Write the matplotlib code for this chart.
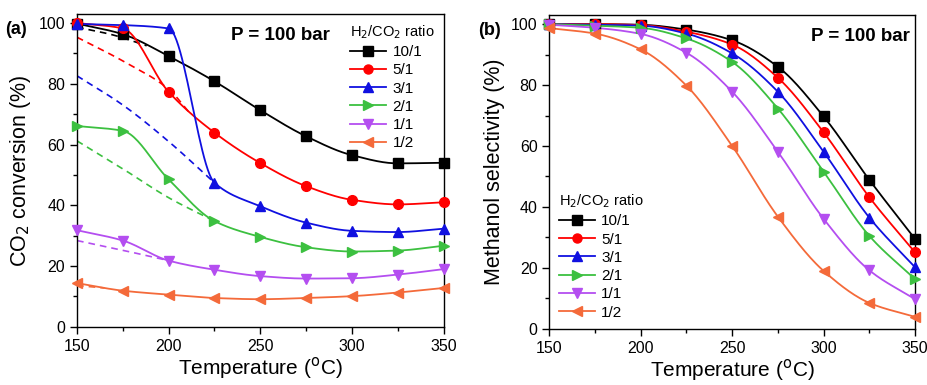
import numpy as np
import matplotlib
matplotlib.use("Agg")
import matplotlib.pyplot as plt

plt.rcParams['font.family'] = ['Liberation Sans', 'DejaVu Sans']

temps = [150, 175, 200, 225, 250, 275, 300, 325, 350]
ratios = ['10/1', '5/1', '3/1', '2/1', '1/1', '1/2']
colors = ['#000000', '#ff0000', '#1010e0', '#3cc040', '#b44ef0', '#f46a3a']
markers = ['s', 'o', '^', '>', 'v', '<']

# CO2 conversion (%)
conv_10_1 = [99.8, 96.3, 89.1, 80.8, 71.3, 62.7, 56.5, 53.8, 54.0]
conv_5_1 = [100.0, 98.2, 77.3, 63.9, 53.9, 46.3, 41.8, 40.3, 41.0]
conv_3_1 = [99.7, 99.3, 98.2, 47.4, 39.7, 34.3, 31.6, 31.2, 32.3]
conv_2_1 = [66.1, 64.5, 48.5, 34.8, 29.6, 26.2, 24.8, 25.1, 26.7]
conv_1_1 = [31.8, 28.4, 21.8, 18.8, 16.7, 15.9, 16.0, 17.2, 19.0]
conv_1_2 = [14.4, 11.9, 10.6, 9.5, 9.1, 9.5, 10.1, 11.3, 12.8]
conv = [conv_10_1, conv_5_1, conv_3_1, conv_2_1, conv_1_1, conv_1_2]

# dashed curves in (a)
dash_t = [[150, 170, 188], [150, 175, 200, 212], [150, 175, 200, 225],
          [150, 175, 200, 225], [150, 175, 200], [150, 165]]
dash_v = [[98.6, 96.0, 92.5], [95.3, 87.5, 78.2, 70.0], [82.6, 73.0, 61.0, 47.4],
          [61.2, 52.0, 42.5, 34.8], [28.4, 25.2, 21.8], [13.6, 12.8]]

# Methanol selectivity (%)
sel_10_1 = [100.0, 100.0, 99.8, 98.2, 94.7, 86.0, 69.7, 48.9, 29.5]
sel_5_1 = [100.0, 100.0, 99.7, 97.5, 93.3, 82.4, 64.5, 43.2, 25.1]
sel_3_1 = [100.0, 99.8, 99.5, 96.9, 90.4, 77.8, 58.1, 36.5, 20.2]
sel_2_1 = [100.0, 99.5, 98.8, 95.3, 87.6, 72.3, 51.6, 30.5, 16.3]
sel_1_1 = [99.8, 98.8, 96.8, 90.6, 77.8, 58.1, 36.1, 19.2, 9.7]
sel_1_2 = [98.7, 96.9, 91.7, 79.8, 60.0, 36.8, 19.0, 8.5, 3.9]
sel = [sel_10_1, sel_5_1, sel_3_1, sel_2_1, sel_1_1, sel_1_2]


def pchip(x, y, n=200):
    # monotone cubic hermite, only used to draw the smooth line through the points
    x = np.asarray(x, float)
    y = np.asarray(y, float)
    h = np.diff(x)
    d = np.diff(y) / h
    m = np.zeros_like(y)
    if len(x) == 2:
        m[:] = d[0]
    else:
        for k in range(1, len(x) - 1):
            if d[k - 1] * d[k] > 0:
                w1 = 2 * h[k] + h[k - 1]
                w2 = h[k] + 2 * h[k - 1]
                m[k] = (w1 + w2) / (w1 / d[k - 1] + w2 / d[k])
        m[0] = d[0]
        m[-1] = d[-1]
    xs = np.linspace(x[0], x[-1], n)
    idx = np.clip(np.searchsorted(x, xs) - 1, 0, len(x) - 2)
    t = (xs - x[idx]) / h[idx]
    h00 = 2 * t**3 - 3 * t**2 + 1
    h10 = t**3 - 2 * t**2 + t
    h01 = -2 * t**3 + 3 * t**2
    h11 = t**3 - t**2
    ys = h00 * y[idx] + h10 * h[idx] * m[idx] + h01 * y[idx + 1] + h11 * h[idx] * m[idx + 1]
    return xs, ys


fig = plt.figure(figsize=(9.28, 3.85), dpi=100)
ax1 = fig.add_axes([0.083, 0.151, 0.395, 0.813])
ax2 = fig.add_axes([0.592, 0.146, 0.394, 0.815])


def style(ax):
    ax.set_xlim(150, 350)
    ax.set_ylim(0, 103)
    ax.set_xticks([150, 200, 250, 300, 350])
    ax.set_xticks([175, 225, 275, 325], minor=True)
    ax.set_yticks([0, 20, 40, 60, 80, 100])
    ax.set_yticks([10, 30, 50, 70, 90], minor=True)
    ax.tick_params(which='major', direction='out', length=5, width=1, labelsize=11.5)
    ax.tick_params(which='minor', direction='out', length=3, width=1)
    for s in ax.spines.values():
        s.set_linewidth(1.0)
    ax.set_xlabel('Temperature ($^{\\mathrm{o}}$C)', fontsize=15, labelpad=1)


for i in range(6):
    xs, ys = pchip(dash_t[i], dash_v[i])
    ax1.plot(xs, ys, '--', color=colors[i], lw=1.2, dashes=(4, 3))
for i in range(6):
    xs, ys = pchip(temps, conv[i])
    ax1.plot(xs, ys, '-', color=colors[i], lw=1.3)
    ax1.plot(temps, conv[i], markers[i], color=colors[i], ms=7, clip_on=False, zorder=5)
    ax1.plot([], [], '-', marker=markers[i], color=colors[i], ms=6.5, lw=1.3, label=ratios[i])

style(ax1)
ax1.set_ylabel('CO$_2$ conversion (%)', fontsize=15.5, labelpad=4)
ax1.text(0.42, 0.93, 'P = 100 bar', transform=ax1.transAxes, fontsize=13.5,
         fontweight='bold', va='center', ha='left')
ax1.text(-0.195, 0.95, '(a)', transform=ax1.transAxes, fontsize=13,
         fontweight='bold', va='center', ha='left')
leg1 = ax1.legend(title='H$_2$/CO$_2$ ratio', loc='upper right', frameon=False,
                  fontsize=11, title_fontsize=10.5, handlelength=2.4,
                  labelspacing=0.28, borderaxespad=0.2, handletextpad=0.4)

for i in range(6):
    xs, ys = pchip(temps, sel[i])
    ax2.plot(xs, ys, '-', color=colors[i], lw=1.3)
    ax2.plot(temps, sel[i], markers[i], color=colors[i], ms=7, clip_on=False, zorder=5)
    ax2.plot([], [], '-', marker=markers[i], color=colors[i], ms=6.5, lw=1.3, label=ratios[i])

style(ax2)
ax2.set_ylabel('Methanol selectivity (%)', fontsize=15.5, labelpad=4)
ax2.text(0.985, 0.93, 'P = 100 bar', transform=ax2.transAxes, fontsize=13.5,
         fontweight='bold', va='center', ha='right')
ax2.text(-0.195, 0.95, '(b)', transform=ax2.transAxes, fontsize=13,
         fontweight='bold', va='center', ha='left')
leg2 = ax2.legend(title='H$_2$/CO$_2$ ratio', loc='lower left', frameon=False,
                  fontsize=11, title_fontsize=10.5, handlelength=2.4,
                  labelspacing=0.28, borderaxespad=0.2, handletextpad=0.4)
for leg in (leg1, leg2):
    leg._legend_box.align = 'left'

fig.savefig('out.png', dpi=100)
